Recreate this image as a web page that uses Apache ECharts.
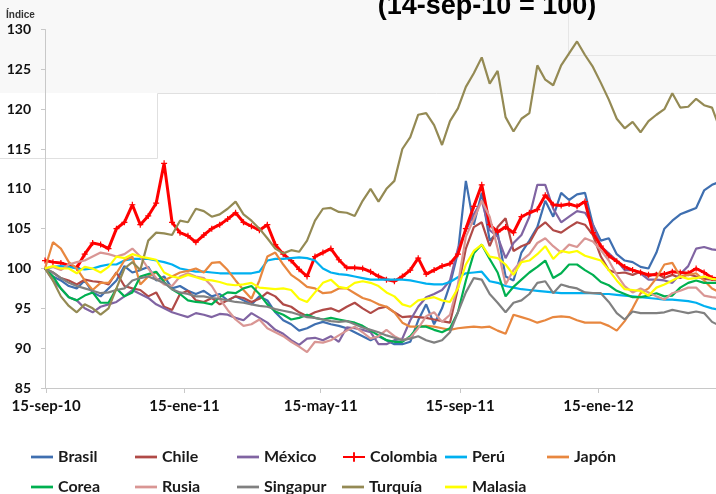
<!DOCTYPE html>
<html><head><meta charset="utf-8">
<script src="https://cdn.jsdelivr.net/npm/echarts/dist/echarts.min.js"></script>
<style>html,body{margin:0;padding:0;background:#fff}#c{width:716px;height:494px}</style>
</head><body><div id="c"></div>
<script>
const dates = ['2010-09-14','2010-09-21','2010-09-28','2010-10-05','2010-10-12','2010-10-19','2010-10-26','2010-11-02','2010-11-09','2010-11-16',
'2010-11-23','2010-11-30','2010-12-07','2010-12-14','2010-12-21','2010-12-28','2011-01-04','2011-01-11','2011-01-18','2011-01-25',
'2011-02-01','2011-02-08','2011-02-15','2011-02-22','2011-03-01','2011-03-08','2011-03-15','2011-03-22','2011-03-29','2011-04-05',
'2011-04-12','2011-04-19','2011-04-26','2011-05-03','2011-05-10','2011-05-17','2011-05-24','2011-05-31','2011-06-07','2011-06-14',
'2011-06-21','2011-06-28','2011-07-05','2011-07-12','2011-07-19','2011-07-26','2011-08-02','2011-08-09','2011-08-16','2011-08-23',
'2011-08-30','2011-09-06','2011-09-13','2011-09-20','2011-09-27','2011-10-04','2011-10-11','2011-10-18','2011-10-25','2011-11-01',
'2011-11-08','2011-11-15','2011-11-22','2011-11-29','2011-12-06','2011-12-13','2011-12-20','2011-12-27','2012-01-03','2012-01-10',
'2012-01-17','2012-01-24','2012-01-31','2012-02-07','2012-02-14','2012-02-21','2012-02-28','2012-03-06','2012-03-13','2012-03-20',
'2012-03-27','2012-04-03','2012-04-10','2012-04-17','2012-04-24','2012-05-01'];

const brasil = [100,99,98.5,97.8,97.5,98.5,97,96.5,97.5,98.5,
100.3,99.5,99.8,100.2,98.5,99,97.5,97.8,97.2,96.8,
97.2,96.5,96.8,96,96.5,96,95.5,96.5,96,94.5,
93.5,93,92.2,92.5,93,93.3,93,92.8,92.5,92,
91.5,91,91.5,91,90.5,90.5,90.8,93.5,95.5,93,
95,98,102,111,105.5,109.5,103.5,104.5,99,98.5,
102,103.5,105.2,108.5,106.5,109.5,108.6,109.3,109.5,105.5,
103.5,103.8,101.8,101,100.8,100.2,100,102,105,106,
106.8,107.2,107.6,109.8,110.5,110.9];
const chile = [100,99.5,98.8,98.5,98,98.6,98.4,98.3,98,99.5,
97.8,97.5,97.3,96.5,97,95.2,94.8,96.8,97.2,96,
95.8,96.3,95.5,96,96.5,96.3,95.8,96.2,97,96.5,
95.5,95.2,94.5,94,94.5,94.8,95,94.6,95.2,95.7,
95,94.4,95,95.2,94.5,93.9,94,93.9,93.8,93.6,
93.4,93.2,97.5,102.5,105.2,105.8,102.8,105.2,106.3,102.2,
102.8,103.2,105,105.8,104.8,104.5,105.2,105.8,105.5,104.2,
101.5,99.8,99.4,99.5,99.2,99.6,99,99.4,98.8,99.2,
98.8,99.3,99,98.7,98.6,98.5];
const mexico = [100,98.5,97.5,96.4,96,95,94.5,95.2,95.5,95.8,
96.5,97.3,96.8,96.3,95.5,95,94.5,94.2,93.9,94.4,
94.2,93.9,94.3,94.2,93.8,93.5,94.4,93.8,93.2,92.3,
91.8,91,90.4,91.2,91.3,91,91.5,90.8,92.6,92.5,
92.3,92,90.5,90.5,91,91.2,93.5,95.2,96.4,96.8,
97.3,98.5,102.5,104.8,106.8,108.5,104.8,104,101.3,103.2,
104.2,106.5,110.5,110.5,107.5,105.8,106.5,107.2,107,105.5,
102.8,101.9,101,99.8,99.8,99.4,98.6,98.6,98.5,98.2,
99.3,100.3,102.5,102.7,102.4,102.3];
const colombia = [101,100.8,100.7,100.4,100.1,101.8,103.2,103,102.5,105,
105.8,108,105.5,106.6,108.2,113.2,105.8,104.5,104.1,103.3,
104.2,105,105.5,106.2,107,105.8,105.3,104.8,105.5,103,
101.8,101,99.9,99,101.5,102,102.5,101.1,100.1,100.1,
100,99.6,99,98.6,98.4,99,99.8,101.3,99.3,99.8,
100.3,100.6,101.8,105,107.8,110.5,105.5,104.6,105.2,104.5,
106.5,107,107.4,109.2,108,107.9,108.1,107.8,108.4,104.5,
102.8,101.6,100.9,100.2,99.8,99.5,99.2,99.2,99.3,99.6,
99.5,99.4,100,99.5,98.8,98.7];
const peru = [100,100.2,100.3,100.2,100,99.9,100,100.3,100.5,100.5,
101,101.2,101.2,101.2,101,100.8,100.5,100,99.8,99.6,
99.6,99.5,99.4,99.4,99.4,99.4,99.4,99.6,101,101.2,
101.2,101.3,101.4,101.3,101,100,99.5,99.3,99.2,99,
98.8,98.6,98.6,98.6,98.6,98.6,98.5,98.3,98.1,98,
98,98.3,98.9,99.4,99.5,99.6,98.4,98.2,97.8,97.6,
97.4,97.3,97.2,97.1,97,96.9,96.9,96.9,96.9,96.9,
96.8,96.8,96.7,96.6,96.5,96.4,96.3,96.2,96.1,96.1,
96,95.9,95.7,95.3,95,94.8];
const japon = [100,103.3,102.5,100.8,100,98.5,97.3,98.2,98.2,99.4,
101,101.5,98,99,99.5,98.5,99,99.5,99.7,100,
99.5,100.7,100.8,99.8,98.5,97.3,96.2,98.5,101.5,102,
100.5,99.2,98.5,97.7,97.5,96.9,97,97.5,97.5,96.9,
96.3,96,95.5,95.2,94.5,93.2,92.7,92.7,92.8,92.7,
92.5,92.3,92.5,92.6,92.7,92.6,92.7,92.2,91.8,94.2,
93.9,93.6,93.2,93.5,93.9,94,93.9,93.5,93.2,93.2,
93.2,92.8,92.2,93.4,95,96.9,97.5,98.8,100.5,100.7,
99,99.2,99.4,98.5,97.5,97];
const corea = [100,99,97.5,96.4,96,96.6,97,95.7,95.7,97.5,
96.5,97,99,99.3,99.6,98.3,97.4,96.8,96,95.8,
95.7,95.5,96.4,97,96.9,97.5,97.8,96.8,95.5,94.6,
94.2,93.6,93.8,94.2,93.8,93.6,93.8,93.6,93.4,93.2,
92.8,92.2,91.6,91,90.8,90.8,91.5,92.7,92.7,92.3,
92,92.5,94.5,98.5,101.9,103,101.2,99.5,96.5,97.7,
98.6,99.5,100.2,101,98.8,99.4,100.5,100.5,99.8,99.2,
98.3,97.9,97.2,96.8,96.4,96.4,96.6,96.9,96.5,96.6,
97.6,98.2,98.5,98.2,98.2,98.2];
const rusia = [100,100.2,99.8,100.5,100.8,101,101.5,102,101.8,101.5,
101.8,102.5,101.5,100,98.8,98,97.8,99,99.4,99,
98.8,97.8,96.2,94.8,93.6,92.8,93,93.6,92.5,92,
91.5,90.8,90.2,89.5,90.8,90.7,91,91.6,92.2,92.7,
92,91.2,91.5,92.3,91.5,91,91.3,92.5,94,94.5,
93.3,94.2,98,104,106.2,108.5,106.5,102.5,98,99.8,
101,101.8,103.2,103.8,102.8,102,103,102.7,103.8,103.4,
102.3,101,99.2,97.8,97,97.5,97,96.5,96.1,96.9,
97.2,97.6,97.6,96.6,96.4,96.3];
const singapur = [100,99.5,98.8,98.2,97.8,97.5,97.2,96.9,97,97.3,
97.5,98.5,98.8,99,98.6,98.2,97.4,97,96.8,96.5,
96.5,96.3,96.2,96,95.8,95.7,95.5,95.3,95.2,94.9,
94.7,94.5,94.2,93.9,93.8,93.6,93.4,93.3,93.4,93,
92.6,92.3,92,91.6,91.3,91,91.2,91.5,91,90.7,
91,92,94.5,97,98.8,98.6,96.8,95.7,94.5,95.7,
96,96.8,98.2,98.4,96.9,98,97.7,97.5,97,96.9,
96.9,95.8,94.4,93.6,94.6,94.4,94.4,94.4,94.5,94.8,
94.6,94.4,94.6,94.4,93.3,92.8];
const turquia = [100,98.5,96.5,95.3,94.5,95.5,95,94.2,95,97.5,
100,100.8,99.8,103.5,104.5,104.4,104.2,106,105.8,107.5,
107.2,106.5,106.8,107.5,108.4,106.8,106,105,103.8,102.5,
101.9,102.3,102.1,103.5,106,107.5,107.6,107.1,107,106.6,
108.5,110,108.4,110,111,115,116.5,119.3,119.5,118,
115.5,118.5,120.1,122.8,124.5,126.5,123.2,124.8,119,117.2,
118.8,119.5,125.5,123.7,123,125.5,127,128.5,126.8,125.3,
123.3,121.2,118.8,117.6,118.4,117.1,118.5,119.3,120,122,
120.2,120.3,121.3,120.5,120.2,117.5];
const malasia = [100,100.3,100,100,99.4,100.2,100,99.5,100.2,101.5,
101.3,101.8,101.5,101.3,101.1,99.5,99,98.8,99.2,98.9,
98.6,98.5,98.3,98,97.9,98,98.2,97.6,97.5,97.4,
97.5,97.3,96.2,95.8,97,98.2,98.6,97.7,97.5,98.2,
98.4,98.2,97.8,97,96.5,95.5,95.2,96,96.2,96.4,
96,95.8,97.5,100.5,102.2,103,101.5,101.3,100.5,99.2,
100.8,101,101.8,102.8,101.2,102.2,102,102.2,101.6,101.3,
101,99.8,98.5,97.4,97.3,97.2,96.6,97.6,98,98.5,
99,98.7,98.8,99,98.7,98.6];

const seriesNames = ['Brasil','Chile','México','Colombia','Perú','Japón','Corea','Rusia','Singapur','Turquía','Malasia'];
const seriesValues = [brasil, chile, mexico, colombia, peru, japon, corea, rusia, singapur, turquia, malasia];
const seriesColors = ['#3F6FB0','#B04A47','#8064A2','#FF0000','#00B0F0','#E8873F','#00B050','#D99694','#808080','#948A54','#FFFF00'];

const baseDate = '2010-09-14';
const endDate = '2012-04-27';
const tickDates = ['2010-09-15','2011-01-15','2011-05-15','2011-09-15','2012-01-15'];
const tickLabels = ['15-sep-10','15-ene-11','15-may-11','15-sep-11','15-ene-12'];
const yMin = 85, yMax = 130, yStep = 5;
const titleText = '(14-sep-10 = 100)';
const yName = 'Índice';

function dayNum(s){ const p=s.split('-'); return Math.round(Date.UTC(+p[0], +p[1]-1, +p[2]) / 86400000); }
const base = dayNum(baseDate);
const dayOf = s => dayNum(s) - base;
const tickDays = tickDates.map(dayOf);

const FONT = 'Lato';
const chart = echarts.init(document.getElementById('c'), null, {renderer:'canvas'});

const PLUS = 'path://M2 0H3V2H5V3H3V5H2V3H0V2H2Z';
const BAR = 'path://M0 0M0 4.5H24V7.5H0ZM24 12';

const series = seriesNames.map((name, k) => {
  const isCol = name === 'Colombia';
  return {
    name, type: 'line',
    data: dates.map((d, i) => [dayOf(d), seriesValues[k][i]]),
    symbol: isCol ? PLUS : 'none',
    symbolSize: isCol ? 6 : 0,
    showSymbol: isCol,
    itemStyle: {color: seriesColors[k]},
    lineStyle: {color: seriesColors[k], width: isCol ? 3 : 2.2},
    emphasis: {disabled: true},
    z: 2 + k
  };
});

// legend grid: 6 columns, 2 rows
const legendText = {fontFamily: FONT, fontWeight: 'bold', fontSize: 16, lineHeight: 18, color: '#1a1a1a'};
const colX = [31, 135, 237, 342, 445, 547];
const rowY = [448, 478];
const legends = seriesNames.map((n, k) => ({
  left: colX[k % 6], top: rowY[Math.floor(k / 6)], padding: 0,
  itemWidth: 22, itemHeight: 12,
  textStyle: legendText,
  data: [n === 'Colombia' ? {name: n} : {name: n, icon: BAR}]
}));

chart.setOption({
  animation: false,
  backgroundColor: '#ffffff',
  grid: {left: 45, right: 0, top: 29.5, bottom: 106, containLabel: false},
  xAxis: {
    type: 'value',
    min: 0,
    max: dayOf(endDate) + 0.5,
    axisLine: {lineStyle: {color: '#c8c8c8', width: 1}},
    axisTick: {show: true, length: 5, lineStyle: {color: '#c8c8c8'}, customValues: tickDays},
    axisLabel: {
      customValues: tickDays,
      margin: 11,
      fontFamily: FONT, fontWeight: 'bold', fontSize: 15, color: '#111',
      formatter: function (v) {
        const i = tickDays.indexOf(Math.round(v));
        return i >= 0 ? tickLabels[i] : '';
      }
    },
    splitLine: {show: false}
  },
  yAxis: {
    type: 'value', min: yMin, max: yMax, interval: yStep,
    axisLine: {show: true, lineStyle: {color: '#c8c8c8', width: 1}},
    axisTick: {show: true, length: 4, lineStyle: {color: '#c8c8c8'}},
    axisLabel: {margin: 14, fontFamily: FONT, fontWeight: 'bold', fontSize: 14, color: '#111'},
    splitLine: {show: false}
  },
  legend: legends,
  graphic: [
    {type: 'rect', z: -10, silent: true, shape: {x: 0, y: 0, width: 716, height: 93}, style: {fill: '#f8f8f8'}},
    {type: 'polyline', z: -9, silent: true, shape: {points: [[0,158.5],[157.5,158.5],[157.5,93.5],[716,93.5]]}, style: {stroke: '#e0e0e0', lineWidth: 1, fill: null}},
    {type: 'polyline', z: -9, silent: true, shape: {points: [[568.5,0],[568.5,55.5],[716,55.5]]}, style: {stroke: '#e6e6e6', lineWidth: 1, fill: null}},
    {type: 'text', z: 10, silent: true,
      style: {text: titleText, x: 487, y: -7, textAlign: 'center', textVerticalAlign: 'top', font: 'bold 27px "Liberation Sans", Arial, sans-serif', fill: '#000'}},
    {type: 'text', z: 10, silent: true,
      style: {text: yName, x: 6, y: 10, font: 'bold 10px "Liberation Sans Narrow", "Liberation Sans", sans-serif', fill: '#333'}}
  ],
  series
});
</script></body></html>
